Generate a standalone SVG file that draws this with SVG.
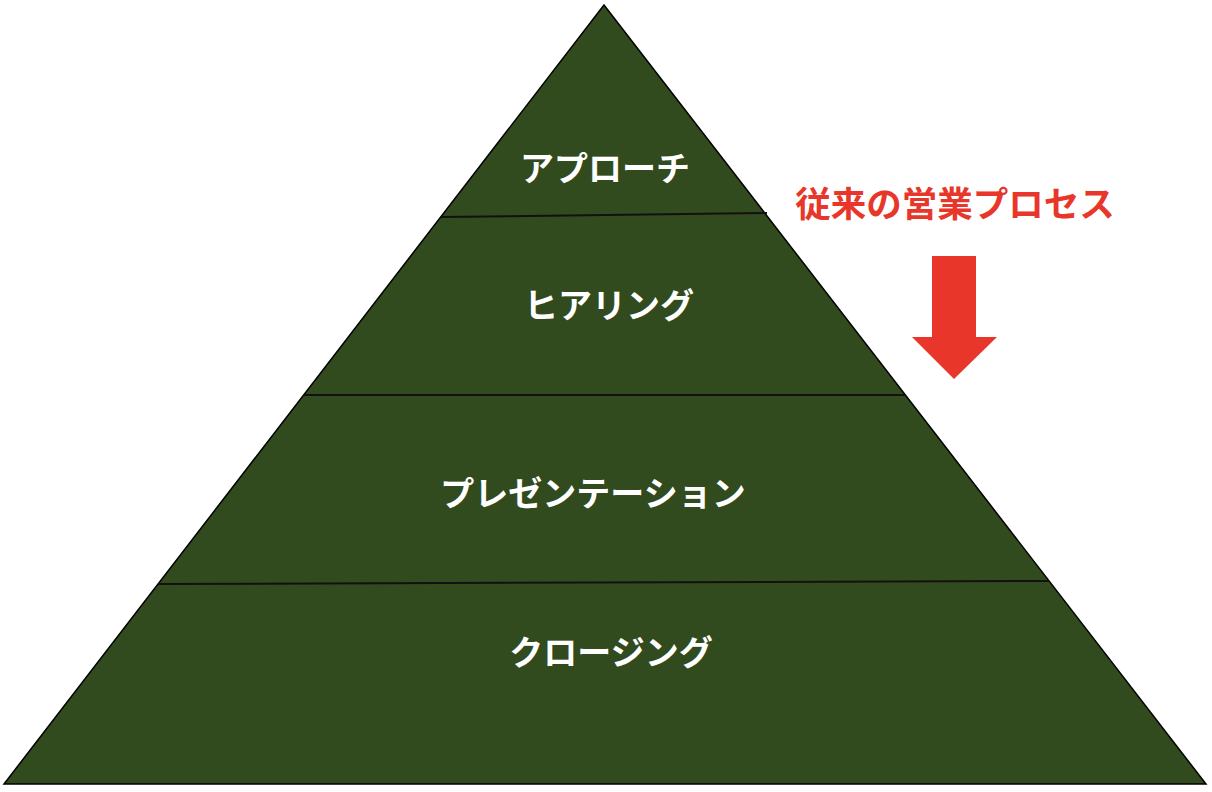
<svg xmlns="http://www.w3.org/2000/svg" width="1212" height="792" viewBox="0 0 1212 792">
<style>
.lbl{font-family:"Noto Sans CJK JP","Noto Sans",sans-serif;font-weight:bold;font-size:34px;fill:#ffffff;text-anchor:middle;dominant-baseline:central}
.red{font-family:"Noto Sans CJK JP","Noto Sans",sans-serif;font-weight:bold;font-size:35.5px;fill:#e8372a;text-anchor:middle;dominant-baseline:central}
.div{stroke:#111;stroke-width:2;fill:none}
</style>
<rect width="1212" height="792" fill="#fff"/>
<g id="pyramid">
<polygon points="604,5 4,784 1206,784" fill="#324b1e" stroke="#000" stroke-width="1.5"/>
</g>
<g id="connectors">
<line class="div" x1="441" y1="217" x2="767" y2="213"/>
<line class="div" x1="303" y1="395" x2="905" y2="395"/>
<line class="div" x1="158" y1="584" x2="1049" y2="581"/>
</g>
<g id="node-approach"><text class="lbl" x="605" y="166">アプローチ</text></g>
<g id="node-hearing"><text class="lbl" x="609" y="303">ヒアリング</text></g>
<g id="node-presentation"><text class="lbl" x="593" y="491">プレゼンテーション</text></g>
<g id="node-closing"><text class="lbl" x="611" y="650">クロージング</text></g>
<g id="title"><text class="red" x="955" y="201">従来の営業プロセス</text></g>
<g id="arrow">
<polygon points="932,256 976,256 976,337 997,337 954,379 912,337 932,337" fill="#e8372a"/>
</g>
</svg>
